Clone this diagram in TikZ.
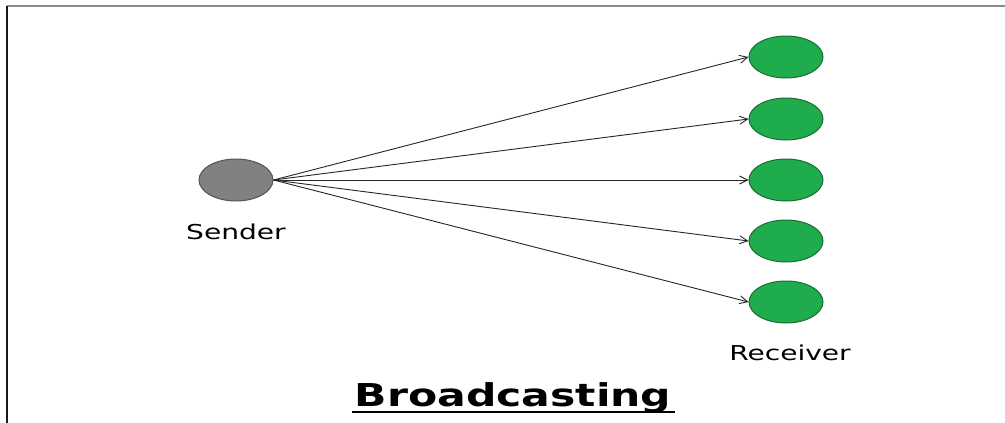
\documentclass[tikz,border=0pt]{standalone}
\usepackage{fontspec}
\setmainfont{DejaVu Sans}
\usetikzlibrary{arrows.meta,positioning,shapes.geometric}
\definecolor{sendfill}{RGB}{128,128,128}
\definecolor{sendline}{RGB}{85,85,85}
\definecolor{recvfill}{RGB}{31,172,76}
\definecolor{recvline}{RGB}{24,110,50}

\begin{document}
\begin{tikzpicture}[x=1pt,y=-1pt,
  host/.style={ellipse,draw,line width=1pt,minimum width=74pt,minimum height=42pt,inner sep=0pt},
  sendhost/.style={host,fill=sendfill,draw=sendline},
  recvhost/.style={host,fill=recvfill,draw=recvline},
  cast/.style={-{Straight Barb[length=8pt,width=8pt]},line width=0.9pt,draw=black!85},
  lbl/.style={anchor=base,font=\fontsize{20.5}{24}\selectfont}]
\useasboundingbox (0,0) rectangle (1005,423);
% frame
\coordinate (fbl) at (7,423);
\coordinate (ftl) at (7,6);
\coordinate (ftr) at (1005,6);
\draw[line width=1.5pt,black!45] (ftl) -- (ftr);
\draw[line width=1.5pt,black!90] (fbl) -- (ftl);
% sender and receivers
\node[sendhost] (S) at (236,180) {};
\node[recvhost] (R1) at (786,57) {};
\node[recvhost] (R2) at (786,119) {};
\node[recvhost] (R3) at (786,180) {};
\node[recvhost] (R4) at (786,241) {};
\node[recvhost] (R5) at (786,302) {};
\draw[cast] (S.east) -- (R1.west);
\draw[cast] (S.east) -- (R2.west);
\draw[cast] (S.east) -- (R3.west);
\draw[cast] (S.east) -- (R4.west);
\draw[cast] (S.east) -- (R5.west);
% labels
\node[lbl] (SL) at (236,239) {\scalebox{1.37}[1]{Sender}};
\node[lbl] (RL) at (790,360) {\scalebox{1.37}[1]{Receiver}};
\node[anchor=base,font=\fontsize{31.5}{36}\selectfont\bfseries] (T) at (513,406) {\scalebox{1.35}[1]{Broadcasting}};
\coordinate (ul1) at (352,412);
\coordinate (ul2) at (675,412);
\draw[line width=2pt] (ul1) -- (ul2);
\end{tikzpicture}
\end{document}
